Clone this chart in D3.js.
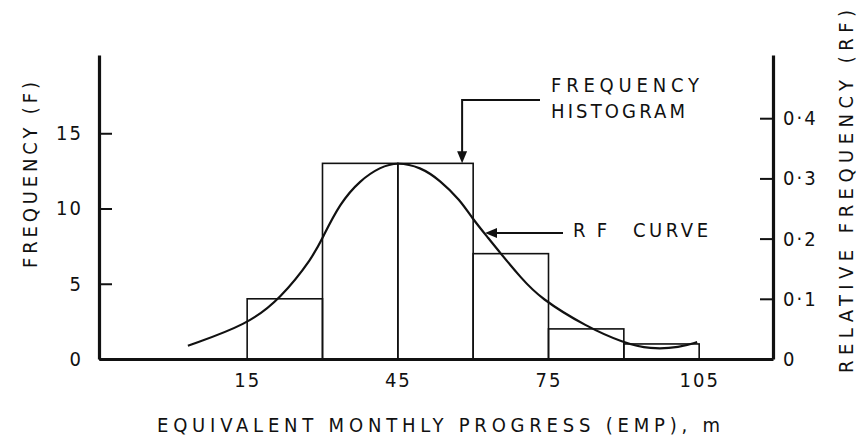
<!DOCTYPE html>
<html>
<head>
<meta charset="utf-8">
<script src="https://cdn.jsdelivr.net/npm/d3@7"></script>
<style>
  body { margin: 0; background: #fff; }
  svg text { font-family: "DejaVu Sans Condensed", "DejaVu Sans", sans-serif; fill: #111; }
</style>
</head>
<body>
<div id="chart"></div>
<script>
// histogram bins (EMP, m) and frequencies
const binEdges = [15, 30, 45, 60, 75, 90, 105];
const frequency = [4, 13, 13, 7, 2, 1];

// relative frequency curve
const rfCurveX = [3.2, 15, 21.6, 28.1, 30.1, 33.5, 37.5, 41.5, 44.9, 49.5, 53.4, 57.4, 59.8, 62.8, 65.4, 69.4, 73.3, 82.7, 89.9, 95.2, 101.2, 104.6];
const rfCurveY = [0.022, 0.057, 0.100, 0.169, 0.203, 0.259, 0.297, 0.319, 0.327, 0.319, 0.297, 0.264, 0.234, 0.203, 0.176, 0.136, 0.101, 0.053, 0.027, 0.016, 0.019, 0.028];

const xTicks = [15, 45, 75, 105];
const freqTicks = [0, 5, 10, 15];
const rfTicks = [0, 0.1, 0.2, 0.3, 0.4];
const totalCount = d3.sum(frequency);

const width = 858, height = 440;
const plot = { left: 99, right: 773, top: 55, bottom: 359 };

const svg = d3.select("#chart").append("svg")
  .attr("width", width)
  .attr("height", height);

const x = d3.scaleLinear().domain([-14.5, 119.7]).range([plot.left, plot.right]);
const y = d3.scaleLinear().domain([0, 20.2]).range([plot.bottom, plot.top]);
// RF = F / total, so the right scale shares the same pixels
const yRF = d3.scaleLinear().domain([0, 20.2 / totalCount]).range([plot.bottom, plot.top]);

// bars
const bins = frequency.map((f, i) => ({ x0: binEdges[i], x1: binEdges[i + 1], f: f }));
svg.append("g")
  .selectAll("rect")
  .data(bins)
  .enter()
  .append("rect")
  .attr("x", d => x(d.x0))
  .attr("y", d => y(d.f))
  .attr("width", d => x(d.x1) - x(d.x0))
  .attr("height", d => y(0) - y(d.f))
  .attr("fill", "none")
  .attr("stroke", "#111")
  .attr("stroke-width", 1.6);

// RF curve
const curvePts = rfCurveX.map((v, i) => [v, rfCurveY[i]]);
svg.append("path")
  .datum(curvePts)
  .attr("fill", "none")
  .attr("stroke", "#111")
  .attr("stroke-width", 2.2)
  .attr("d", d3.line().x(d => x(d[0])).y(d => yRF(d[1])).curve(d3.curveBasis));

// axes
const rfFormat = d => d === 0 ? "0" : d3.format(".1f")(d).replace(".", "\u00B7");

const leftAxis = svg.append("g")
  .attr("transform", `translate(${plot.left},0)`)
  .call(d3.axisLeft(y).tickValues(freqTicks).tickSize(-13).tickSizeOuter(0).tickPadding(16));

const rightAxis = svg.append("g")
  .attr("transform", `translate(${plot.right},0)`)
  .call(d3.axisRight(yRF).tickValues(rfTicks).tickFormat(rfFormat).tickSize(-13).tickSizeOuter(0).tickPadding(10));

const bottomAxis = svg.append("g")
  .attr("transform", `translate(0,${plot.bottom})`)
  .call(d3.axisBottom(x).tickValues(xTicks).tickSize(0).tickSizeOuter(0).tickPadding(11));

[leftAxis, rightAxis, bottomAxis].forEach(g => {
  g.select(".domain").attr("stroke", "#111").attr("stroke-width", 3.2);
  g.selectAll(".tick line").attr("stroke", "#111").attr("stroke-width", 2);
  g.selectAll(".tick text")
    .attr("font-size", 20)
    .attr("font-family", "DejaVu Sans Condensed, DejaVu Sans, sans-serif")
    .attr("fill", "#111")
    .attr("letter-spacing", 2);
});
bottomAxis.selectAll(".tick text").attr("dy", "0.85em");

// axis titles
svg.append("text")
  .attr("x", 157)
  .attr("y", 432)
  .attr("font-size", 20)
  .attr("textLength", 563)
  .attr("lengthAdjust", "spacing")
  .text("EQUIVALENT MONTHLY PROGRESS (EMP), m");

svg.append("text")
  .attr("transform", "translate(37,268) rotate(-90)")
  .attr("font-size", 20)
  .attr("textLength", 186)
  .attr("lengthAdjust", "spacing")
  .text("FREQUENCY (F)");

svg.append("text")
  .attr("transform", "translate(853,373) rotate(-90)")
  .attr("font-size", 20)
  .attr("textLength", 363)
  .attr("lengthAdjust", "spacing")
  .text("RELATIVE FREQUENCY (RF)");

// annotations
const arrowTip = (cx, cy, dir) => {
  // small filled triangle pointing in dir: "down" or "left"
  const s = 5, l = 12;
  return dir === "down"
    ? `M${cx},${cy} L${cx - s},${cy - l} L${cx + s},${cy - l} Z`
    : `M${cx},${cy} L${cx + l},${cy - s} L${cx + l},${cy + s} Z`;
};

const histX = x(57.8), histY = y(13);
svg.append("path")
  .attr("d", `M540,100 L${histX},100 L${histX},${histY - 10}`)
  .attr("fill", "none")
  .attr("stroke", "#111")
  .attr("stroke-width", 2);
svg.append("path").attr("d", arrowTip(histX, histY, "down")).attr("fill", "#111");

svg.append("text").attr("x", 551).attr("y", 92).attr("font-size", 20)
  .attr("textLength", 148).attr("lengthAdjust", "spacing").text("FREQUENCY");
svg.append("text").attr("x", 551).attr("y", 118).attr("font-size", 20)
  .attr("textLength", 134).attr("lengthAdjust", "spacing").text("HISTOGRAM");

const rfArrowX = 485, rfArrowY = 233;
svg.append("line")
  .attr("x1", 563).attr("y1", rfArrowY)
  .attr("x2", rfArrowX + 8).attr("y2", rfArrowY)
  .attr("stroke", "#111")
  .attr("stroke-width", 2);
svg.append("path").attr("d", arrowTip(rfArrowX, rfArrowY, "left")).attr("fill", "#111");

svg.append("text").attr("x", 573).attr("y", 237).attr("font-size", 20)
  .attr("textLength", 34).attr("lengthAdjust", "spacing").text("RF");
svg.append("text").attr("x", 633).attr("y", 237).attr("font-size", 20)
  .attr("textLength", 75).attr("lengthAdjust", "spacing").text("CURVE");
</script>
</body>
</html>
